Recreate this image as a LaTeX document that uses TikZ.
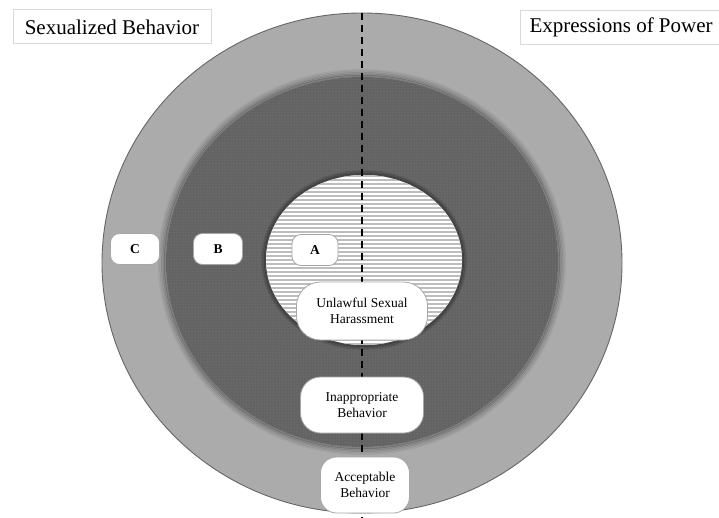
\documentclass[tikz,border=0pt]{standalone}
\usepackage{fontspec}
\setmainfont{Liberation Serif}
\usetikzlibrary{patterns}
\definecolor{ringlight}{HTML}{ABABAB}
\definecolor{ringdark}{HTML}{636363}
\definecolor{dotcol}{HTML}{858585}
\definecolor{hatchcol}{HTML}{BDBDBD}
\begin{document}
\begin{tikzpicture}[x=1pt,y=-1pt,
  toplabel/.style={draw=black!15, line width=1pt, fill=white, inner xsep=9pt, inner ysep=0pt,
    minimum height=34pt, font=\fontsize{21}{25}\selectfont},
  letterbox/.style={draw=black!35, line width=0.8pt, fill=white, rounded corners=9pt,
    minimum height=31pt, inner sep=0pt, font=\fontsize{13.5}{15}\selectfont\bfseries},
  zonebox/.style={draw=black!35, line width=0.8pt, fill=white, inner sep=0pt,
    align=center, font=\fontsize{13.5}{16.5}\selectfont},
  divider/.style={line width=2.2pt, dash pattern=on 7pt off 5pt},
  hatchline/.style={hatchcol, line width=1.7pt},
]
\useasboundingbox (0,0) rectangle (719,518);

% outer ring
\fill[ringlight] (362,263) ellipse [x radius=260, y radius=250];
\draw[black!60, line width=0.9pt] (362,263) ellipse [x radius=260, y radius=250];

% soft shadow of middle ring
\foreach \d/\o in {7/0.05,5.5/0.08,4/0.12,2.5/0.18,1/0.25}
  \draw[black, opacity=\o, line width=2pt] (362,262) ellipse [x radius=196+\d, y radius=185+\d];

% middle ring
\fill[ringdark] (362,262) ellipse [x radius=196, y radius=185];
\fill[pattern=dots, pattern color=dotcol] (362,262) ellipse [x radius=196, y radius=185];

% soft shadow of inner area
\foreach \d/\o in {4/0.10,2.5/0.18,1/0.28}
  \draw[black, opacity=\o, line width=2pt] (364,260) ellipse [x radius=98+\d, y radius=85+\d];

% inner area with horizontal hatching
\fill[white] (364,260) ellipse [x radius=98, y radius=85];
\begin{scope}
  \clip (364,260) ellipse [x radius=98, y radius=85];
  \foreach \yy in {176,180,...,348}
    \draw[hatchline] (262,\yy) -- (466,\yy);
\end{scope}

% divider
\coordinate (divtop) at (362,13);
\coordinate (divbot) at (362,522);
\draw[divider] (divtop) -- (divbot);

% boxes
\node[letterbox, minimum width=49pt] (c) at (135,249) {C};
\node[letterbox, minimum width=49pt] (b) at (218,249) {B};
\node[letterbox, minimum width=46pt] (a) at (315,250) {A};

\node[zonebox, rounded corners=24pt, minimum width=131pt, minimum height=58pt] (usx) at (362,311)
  {Unlawful Sexual\\Harassment};
\node[zonebox, rounded corners=20pt, minimum width=123pt, minimum height=56pt] (inap) at (362,405)
  {Inappropriate\\Behavior};
\node[zonebox, rounded corners=16pt, minimum width=89pt, minimum height=56pt] (acc) at (365,485)
  {Acceptable\\Behavior};

% top labels
\node[toplabel, minimum width=198pt] (sexbeh) at (112,27) {Sexualized Behavior};
\node[toplabel, anchor=west] (power) at (520,27.5) {Expressions of Power};
\end{tikzpicture}
\end{document}
